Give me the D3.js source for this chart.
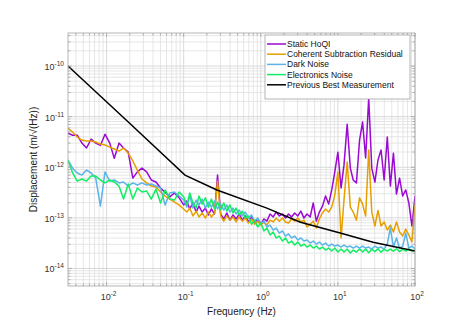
<!DOCTYPE html>
<html>
<head>
<meta charset="utf-8">
<script src="https://cdn.jsdelivr.net/npm/d3@7"></script>
<style>
  body { margin: 0; background: #fff; }
  text { font-family: "Liberation Sans", Arial, Helvetica, sans-serif; }
</style>
</head>
<body>
<svg id="chart" width="468" height="331"></svg>
<script>
// frequency grid shared by the measured spectra (Hz)
var freq = [
  0.00316, 0.00363, 0.00417, 0.00479, 0.0055, 0.00631, 0.00724, 0.00832, 0.00955, 0.011,
  0.0126, 0.0145, 0.0166, 0.0191, 0.0219, 0.0251, 0.0288, 0.0331, 0.038, 0.0437,
  0.0501, 0.0575, 0.0661, 0.0759, 0.0871,
  0.1, 0.11, 0.12, 0.132, 0.145, 0.158, 0.174, 0.191, 0.209, 0.229,
  0.251, 0.275, 0.302, 0.331, 0.363, 0.398, 0.437, 0.479, 0.525, 0.575,
  0.631, 0.692, 0.759, 0.832, 0.912,
  1, 1.1, 1.2, 1.32, 1.45, 1.58, 1.74, 1.91, 2.09, 2.29,
  2.51, 2.75, 3.02, 3.31, 3.63, 3.98, 4.37, 4.79, 5.25, 5.75,
  6.31, 6.92, 7.59, 8.32, 9.12,
  10, 11, 12, 13.2, 14.5, 15.8, 17.4, 19.1, 20.9, 22.9,
  25.1, 27.5, 30.2, 33.1, 36.3, 39.8, 43.7, 47.9, 52.5, 57.5,
  63.1, 69.2, 75.9, 83.2, 91.2, 100
];

// Static HoQI (m/rtHz)
var hoqi = [
  4.7e-12, 4.3e-12, 4.3e-12, 3.0e-12, 2.4e-12, 3.6e-12, 3.0e-12, 2.7e-12, 4.5e-12, 3.0e-12,
  1.5e-12, 3.0e-12, 2.4e-12, 2.0e-12, 6.1e-13, 8.1e-13, 9.6e-13, 8.1e-13, 5.6e-13, 5.1e-13,
  3.9e-13, 3.2e-13, 2.6e-13, 3.1e-13, 2.5e-13,
  1.8e-13, 2.15e-13, 1.5e-13, 1.97e-13, 1.3e-13, 1.7e-13, 1.3e-13, 1.56e-13, 1.14e-13, 1.5e-13,
  1.19e-13, 7.0e-13, 1.19e-13, 9.5e-14, 1.25e-13, 9.0e-14, 1.14e-13, 9.5e-14, 1.19e-13, 9.0e-14,
  1.09e-13, 8.3e-14, 1.04e-13, 7.9e-14, 9.5e-14, 7.5e-14, 9.5e-14, 8.6e-14, 1.19e-13, 1.04e-13,
  1.3e-13, 1.09e-13, 1.19e-13, 9.9e-14, 1.19e-13, 1.04e-13, 1.25e-13, 1.09e-13, 1.36e-13, 9.9e-14,
  1.19e-13, 1.04e-13, 1.97e-13, 8.6e-14, 1.3e-13, 1.7e-13, 2.7e-13, 1.87e-13, 3.56e-13, 8.1e-13,
  1.98e-12, 3.9e-13, 1.1e-12, 7.1e-12, 9.6e-13, 5.6e-13, 4.9e-13, 3.45e-12, 7.8e-12, 1.52e-12,
  2.33e-11, 9.6e-13, 5.1e-13, 1.39e-12, 2.19e-12, 5.6e-13, 3.96e-12, 4.25e-13, 1.9e-12, 2.95e-13,
  6.1e-13, 2.7e-13, 3.56e-13, 1.97e-13, 6.9e-14, 2.7e-13
];

// Coherent Subtraction Residual
var residual = [
  5.9e-12, 4.95e-12, 3.96e-12, 3.45e-12, 3.3e-12, 3.3e-12, 3.15e-12, 2.87e-12, 2.75e-12, 2.5e-12,
  2.29e-12, 2.09e-12, 2.4e-12, 1.9e-12, 1.33e-12, 8.8e-13, 5.85e-13, 4.9e-13, 4.25e-13, 4.06e-13,
  3.24e-13, 2.7e-13, 2.35e-13, 2.05e-13, 1.8e-13,
  1.5e-13, 1.3e-13, 1.56e-13, 1.09e-13, 1.36e-13, 1.04e-13, 1.25e-13, 9.9e-14, 1.3e-13, 1.04e-13,
  1.25e-13, 5.33e-13, 1.09e-13, 8.6e-14, 1.09e-13, 9.0e-14, 1.04e-13, 8.3e-14, 1.04e-13, 8.6e-14,
  9.9e-14, 7.9e-14, 9.5e-14, 7.5e-14, 8.6e-14, 7.2e-14, 8.3e-14, 7.2e-14, 9.0e-14, 8.3e-14,
  9.9e-14, 8.6e-14, 9.9e-14, 8.3e-14, 7.9e-14, 9.5e-14, 8.6e-14, 9.9e-14, 8.3e-14, 9.0e-14,
  6.6e-14, 7.5e-14, 8.6e-14, 6.3e-14, 9.5e-14, 1.25e-13, 1.5e-13, 1.3e-13, 1.63e-13, 2.82e-13,
  8.1e-13, 4.0e-14, 2.25e-13, 1.27e-12, 1.63e-13, 1.3e-13, 9.0e-14, 2.5e-13, 1.87e-13, 1.09e-13,
  2.19e-12, 1.3e-13, 6.9e-14, 1.4e-13, 6.9e-14, 8.3e-14, 5.74e-14, 7.2e-14, 5.25e-14, 8.3e-14,
  5.25e-14, 4.37e-14, 6.0e-14, 4.57e-14, 3.33e-14, 1.8e-13
];

// Dark Noise
var darkNoise = [
  1.39e-12, 9.6e-13, 7.7e-13, 7.0e-13, 8.8e-13, 7.7e-13, 6.1e-13, 1.71e-13, 8.1e-13, 5.33e-13,
  5.6e-13, 4.9e-13, 5.1e-13, 4.25e-13, 4.9e-13, 4.45e-13, 4.9e-13, 4.45e-13, 4.66e-13, 4.25e-13,
  3.9e-13, 1.8e-13, 3.1e-13, 3.24e-13, 2.7e-13,
  2.25e-13, 1.63e-13, 2.7e-13, 1.56e-13, 2.25e-13, 1.8e-13, 2.35e-13, 1.56e-13, 2.05e-13, 1.63e-13,
  2.15e-13, 1.5e-13, 1.87e-13, 1.43e-13, 1.8e-13, 1.3e-13, 1.56e-13, 1.19e-13, 1.43e-13, 1.09e-13,
  1.3e-13, 9.9e-14, 1.14e-13, 8.6e-14, 9.9e-14, 7.9e-14, 8.6e-14, 6.6e-14, 7.2e-14, 5.74e-14,
  6.3e-14, 5.0e-14, 5.5e-14, 4.37e-14, 4.8e-14, 4.0e-14, 4.37e-14, 3.64e-14, 4.0e-14, 3.48e-14,
  3.64e-14, 3.18e-14, 3.48e-14, 3.04e-14, 3.33e-14, 2.9e-14, 3.18e-14, 2.77e-14, 3.04e-14, 2.77e-14,
  2.9e-14, 2.65e-14, 2.9e-14, 2.65e-14, 2.77e-14, 2.53e-14, 2.77e-14, 2.53e-14, 2.77e-14, 2.53e-14,
  2.65e-14, 2.42e-14, 2.77e-14, 2.53e-14, 2.65e-14, 2.42e-14, 3.04e-14, 6.3e-14, 2.65e-14, 4.0e-14,
  2.53e-14, 2.77e-14, 5.0e-14, 2.53e-14, 2.77e-14, 2.42e-14
];

// Electronics Noise
var electronics = [
  1.39e-12, 7.7e-13, 5.33e-13, 5.85e-13, 5.33e-13, 6.7e-13, 6.7e-13, 5.6e-13, 4.9e-13, 5.6e-13,
  5.1e-13, 4.25e-13, 2.35e-13, 4.66e-13, 2.35e-13, 3.9e-13, 3.24e-13, 3.4e-13, 2.35e-13, 3.7e-13,
  1.97e-13, 3.56e-13, 2.35e-13, 2.25e-13, 3.24e-13,
  2.6e-13, 1.8e-13, 3.1e-13, 1.97e-13, 1.56e-13, 2.7e-13, 1.87e-13, 2.5e-13, 1.63e-13, 2.35e-13,
  1.5e-13, 2.05e-13, 1.43e-13, 1.97e-13, 1.36e-13, 1.8e-13, 1.25e-13, 1.56e-13, 1.14e-13, 1.36e-13,
  9.9e-14, 1.09e-13, 7.5e-14, 9.0e-14, 6.6e-14, 7.9e-14, 5.5e-14, 6.3e-14, 4.57e-14, 5.25e-14,
  4.0e-14, 4.37e-14, 3.48e-14, 4.0e-14, 3.18e-14, 3.48e-14, 2.9e-14, 3.33e-14, 2.77e-14, 3.04e-14,
  2.65e-14, 2.9e-14, 2.53e-14, 2.77e-14, 2.42e-14, 2.65e-14, 2.31e-14, 2.53e-14, 2.21e-14, 2.53e-14,
  2.11e-14, 2.42e-14, 2.11e-14, 2.42e-14, 2.02e-14, 2.31e-14, 2.11e-14, 2.42e-14, 2.11e-14, 2.42e-14,
  2.05e-14, 2.4e-14, 2.15e-14, 2.45e-14, 2.1e-14, 2.38e-14, 2.21e-14, 2.42e-14, 2.2e-14, 2.45e-14,
  2.15e-14, 2.4e-14, 2.2e-14, 2.44e-14, 2.2e-14, 2.31e-14
];

// Previous Best Measurement
var prevFreq = [0.00316, 0.0178, 0.104, 0.27, 1.2, 3.2, 10.7, 28.6, 100];
var prevBest = [1.0e-10, 8.7e-12, 7.0e-13, 3.55e-13, 1.56e-13, 8.3e-14, 5.0e-14, 3.3e-14, 2.2e-14];

var seriesNames = ['Static HoQI', 'Coherent Subtraction Residual', 'Dark Noise',
  'Electronics Noise', 'Previous Best Measurement'];
var seriesColors = ['#9a0ad2', '#e69f00', '#5ab4e9', '#12ee62', '#000000'];

var xTicks = [0.01, 0.1, 1, 10, 100];
var xTickExp = ['-2', '-1', '0', '1', '2'];
var yTicks = [1e-14, 1e-13, 1e-12, 1e-11, 1e-10];
var yTickExp = ['-14', '-13', '-12', '-11', '-10'];

var plot = {left: 68, right: 415, top: 33, bottom: 286};

var svg = d3.select('#chart');

var x = d3.scaleLog().domain([0.0031623, 100]).range([plot.left, plot.right]);
var y = d3.scaleLog().domain([4.5e-15, 4.5e-10]).range([plot.bottom, plot.top]);

// white plot background
svg.append('rect')
  .attr('x', plot.left).attr('y', plot.top)
  .attr('width', plot.right - plot.left).attr('height', plot.bottom - plot.top)
  .attr('fill', '#fff');

// grid lines, minor first then decades
var xGrid = [], yGrid = [];
for (var k = -3; k <= 2; k++) {
  for (var m = 1; m <= 9; m++) {
    var v = m * Math.pow(10, k);
    if (v >= 0.0031623 && v <= 100) xGrid.push({v: v, major: m === 1});
  }
}
for (var k2 = -15; k2 <= -10; k2++) {
  for (var m2 = 1; m2 <= 9; m2++) {
    var w = m2 * Math.pow(10, k2);
    if (w >= 4.5e-15 && w <= 4.5e-10) yGrid.push({v: w, major: m2 === 1});
  }
}

var grid = svg.append('g').attr('class', 'grid');
grid.selectAll('.gx')
  .data(xGrid)
  .enter()
  .append('line')
  .attr('x1', function(d) { return x(d.v); })
  .attr('x2', function(d) { return x(d.v); })
  .attr('y1', plot.top).attr('y2', plot.bottom)
  .attr('stroke', function(d) { return d.major ? '#cfcfcf' : '#e0e0e0'; })
  .attr('stroke-width', 0.8);
grid.selectAll('.gy')
  .data(yGrid)
  .enter()
  .append('line')
  .attr('y1', function(d) { return y(d.v); })
  .attr('y2', function(d) { return y(d.v); })
  .attr('x1', plot.left).attr('x2', plot.right)
  .attr('stroke', function(d) { return d.major ? '#cfcfcf' : '#e0e0e0'; })
  .attr('stroke-width', 0.8);

// clip data to the axes box
svg.append('clipPath').attr('id', 'plot_clip')
  .append('rect')
  .attr('x', plot.left).attr('y', plot.top)
  .attr('width', plot.right - plot.left).attr('height', plot.bottom - plot.top);

var line = d3.line()
  .x(function(d) { return x(d[0]); })
  .y(function(d) { return y(d[1]); });

var measured = [hoqi, residual, darkNoise, electronics];
var data_container = svg.append('g').attr('clip-path', 'url(#plot_clip)');

measured.forEach(function(vals, i) {
  var pts = freq.map(function(f, j) { return [f, vals[j]]; });
  data_container.append('path')
    .attr('d', line(pts))
    .attr('fill', 'none')
    .attr('stroke', seriesColors[i])
    .attr('stroke-width', 1.5)
    .attr('stroke-linejoin', 'round');
});

data_container.append('path')
  .attr('d', line(prevFreq.map(function(f, j) { return [f, prevBest[j]]; })))
  .attr('fill', 'none')
  .attr('stroke', seriesColors[4])
  .attr('stroke-width', 1.5);

// axes box
svg.append('rect')
  .attr('x', plot.left).attr('y', plot.top)
  .attr('width', plot.right - plot.left).attr('height', plot.bottom - plot.top)
  .attr('fill', 'none')
  .attr('stroke', '#a3a3a3')
  .attr('stroke-width', 0.8);

// inward ticks
var ticks = svg.append('g').attr('stroke', '#a3a3a3').attr('stroke-width', 0.8);
xGrid.forEach(function(d) {
  var len = d.major ? 4 : 2.5;
  ticks.append('line').attr('x1', x(d.v)).attr('x2', x(d.v))
    .attr('y1', plot.bottom).attr('y2', plot.bottom - len);
  ticks.append('line').attr('x1', x(d.v)).attr('x2', x(d.v))
    .attr('y1', plot.top).attr('y2', plot.top + len);
});
yGrid.forEach(function(d) {
  var len = d.major ? 4 : 2.5;
  ticks.append('line').attr('y1', y(d.v)).attr('y2', y(d.v))
    .attr('x1', plot.left).attr('x2', plot.left + len);
  ticks.append('line').attr('y1', y(d.v)).attr('y2', y(d.v))
    .attr('x1', plot.right).attr('x2', plot.right - len);
});

// tick labels with superscript exponents
var xLabels = svg.selectAll('.xtick')
  .data(xTicks)
  .enter()
  .append('text')
  .attr('class', 'xtick')
  .attr('x', function(d) { return x(d) + 2; })
  .attr('y', 300)
  .attr('text-anchor', 'middle')
  .attr('fill', '#333')
  .style('font-size', '9px');
xLabels.append('tspan').text('10');
xLabels.append('tspan')
  .attr('dy', -4)
  .style('font-size', '6.5px')
  .text(function(d, i) { return xTickExp[i]; });

var yLabels = svg.selectAll('.ytick')
  .data(yTicks)
  .enter()
  .append('text')
  .attr('class', 'ytick')
  .attr('x', 64)
  .attr('y', function(d) { return y(d) + 4; })
  .attr('text-anchor', 'end')
  .attr('fill', '#333')
  .style('font-size', '9px');
yLabels.append('tspan').text('10');
yLabels.append('tspan')
  .attr('dy', -4)
  .style('font-size', '6.5px')
  .text(function(d, i) { return yTickExp[i]; });

// axis titles
svg.append('text')
  .attr('x', (plot.left + plot.right) / 2)
  .attr('y', 315)
  .attr('text-anchor', 'middle')
  .attr('fill', '#222')
  .style('font-size', '10px')
  .text('Frequency (Hz)');

svg.append('text')
  .attr('transform', 'translate(37,' + ((plot.top + plot.bottom) / 2) + ') rotate(-90)')
  .attr('text-anchor', 'middle')
  .attr('fill', '#222')
  .style('font-size', '10px')
  .text('Displacement (m/\u221A(Hz))');

// legend
var legend = svg.append('g').attr('class', 'legend');
legend.append('rect')
  .attr('x', 265).attr('y', 35)
  .attr('width', 145).attr('height', 64)
  .attr('fill', '#fff')
  .attr('stroke', '#a3a3a3')
  .attr('stroke-width', 0.8);

var legend_rows = legend.selectAll('.legend_row')
  .data(seriesNames)
  .enter()
  .append('g')
  .attr('class', 'legend_row')
  .attr('transform', function(d, i) { return 'translate(0,' + (44 + i * 10.2) + ')'; });

legend_rows.append('line')
  .attr('x1', 267).attr('x2', 286)
  .attr('y1', 0).attr('y2', 0)
  .attr('stroke', function(d, i) { return seriesColors[i]; })
  .attr('stroke-width', 1.5);

legend_rows.append('text')
  .attr('x', 287)
  .attr('y', 3)
  .attr('fill', '#111')
  .style('font-size', '8.5px')
  .text(function(d) { return d; });
</script>
</body>
</html>
